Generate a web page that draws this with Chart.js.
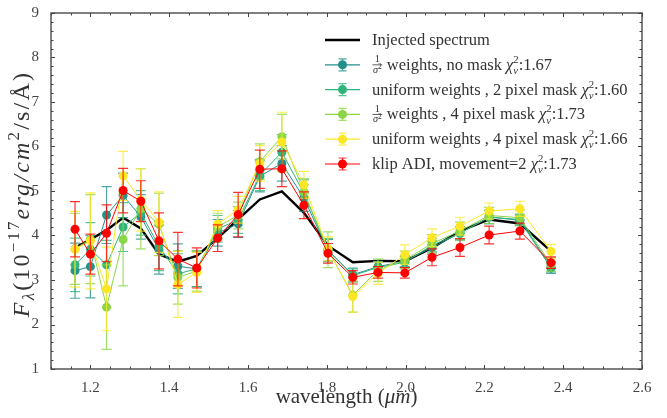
<!DOCTYPE html>
<html>
<head>
<meta charset="utf-8">
<script src="https://cdn.jsdelivr.net/npm/chart.js@4.4.0/dist/chart.umd.min.js"></script>
<style>
  html, body { margin: 0; padding: 0; background: #fff; }
  #wrap { width: 667px; height: 418px; }
</style>
</head>
<body>
<div id="wrap"><canvas id="spectrum" width="667" height="418"></canvas></div>
<script>
// wavelength grid (microns)
const wavelengths = [1.161, 1.200, 1.241, 1.283, 1.328, 1.374, 1.422, 1.470, 1.523, 1.575, 1.630,
                     1.686, 1.742, 1.803, 1.866, 1.930, 1.998, 2.067, 2.138, 2.212, 2.290, 2.369];

// injected model spectrum
const injected = [3.73, 3.91, 4.12, 4.40, 4.16, 3.58, 3.41, 3.54, 3.94, 4.36, 4.81,
                  4.99, 4.51, 3.77, 3.40, 3.43, 3.42, 3.72, 4.10, 4.36, 4.27, 3.65];

// 1/sigma^2 weights, no mask
const fluxSigNoMask = [3.21, 3.30, 4.46, 4.90, 4.42, 3.68, 3.31, 3.25, 4.06, 4.26, 5.33,
                       5.62, 4.84, 3.66, 3.12, 3.30, 3.42, 3.73, 4.05, 4.42, 4.34, 3.27];
const errSigNoMask  = [0.62, 0.70, 0.64, 0.50, 0.50, 0.55, 0.50, 0.40, 0.30, 0.30, 0.35,
                       0.40, 0.30, 0.25, 0.15, 0.12, 0.12, 0.15, 0.15, 0.15, 0.12, 0.12];

// uniform weights, 2 pixel mask
const fluxUni2 = [3.34, 3.69, 3.34, 4.19, 4.51, 3.76, 3.14, 3.25, 4.15, 4.35, 5.36,
                  5.87, 4.95, 3.68, 3.10, 3.28, 3.40, 3.78, 4.05, 4.41, 4.36, 3.30];
const errUni2  = [0.60, 0.60, 0.55, 0.55, 0.50, 0.55, 0.45, 0.40, 0.30, 0.30, 0.35,
                  0.40, 0.30, 0.25, 0.15, 0.12, 0.12, 0.15, 0.15, 0.15, 0.12, 0.12];

// 1/sigma^2 weights, 4 pixel mask
const fluxSig4 = [3.70, 3.92, 2.39, 3.91, 4.60, 4.25, 3.06, 3.20, 4.20, 4.45, 5.66,
                  6.22, 4.98, 3.68, 2.66, 3.22, 3.45, 3.82, 4.10, 4.45, 4.40, 3.35];
const errSig4  = [0.80, 1.00, 0.95, 1.04, 0.90, 0.70, 0.60, 0.45, 0.30, 0.30, 0.40,
                  0.50, 0.30, 0.40, 0.38, 0.25, 0.20, 0.20, 0.20, 0.18, 0.17, 0.15];

// uniform weights, 4 pixel mask
const fluxUni4 = [3.69, 3.88, 2.80, 5.34, 4.80, 4.30, 2.90, 3.17, 4.26, 4.58, 5.62,
                  6.10, 5.14, 3.70, 2.63, 3.15, 3.57, 3.95, 4.21, 4.55, 4.60, 3.64];
const errUni4  = [0.85, 1.08, 0.94, 0.55, 0.70, 0.68, 0.74, 0.45, 0.30, 0.30, 0.40,
                  0.67, 0.30, 0.27, 0.35, 0.25, 0.22, 0.20, 0.20, 0.18, 0.17, 0.16];

// klip ADI, movement=2
const fluxKlip = [4.14, 3.58, 4.05, 5.01, 4.77, 3.88, 3.47, 3.27, 3.94, 4.47, 5.49,
                  5.50, 4.68, 3.60, 3.06, 3.17, 3.16, 3.51, 3.73, 4.01, 4.10, 3.39];
const errKlip  = [0.62, 0.45, 0.64, 0.50, 0.46, 0.63, 0.60, 0.45, 0.30, 0.50, 0.43,
                  0.40, 0.30, 0.22, 0.15, 0.13, 0.12, 0.19, 0.20, 0.20, 0.18, 0.13];

const chiValues = ['1.67', '1.60', '1.73', '1.66', '1.73'];

const xTicks = [1.2, 1.4, 1.6, 1.8, 2.0, 2.2, 2.4, 2.6];
const yTicks = [1, 2, 3, 4, 5, 6, 7, 8, 9];

const SERIF = '"Liberation Serif", "DejaVu Serif", serif';
const fontOf = (size, italic) => (italic ? 'italic ' : '') + size + 'px ' + SERIF;

// --- small rich-text renderer for the math bits (fractions, sub/superscripts) ---
function measureParts(ctx, parts, size) {
  let w = 0;
  for (const p of parts) {
    if (p.stack) {
      w += Math.max(...p.stack.map(q => measureParts(ctx, q, size)));
    } else if (p.frac) {
      w += Math.max(measureParts(ctx, p.frac[0], size), measureParts(ctx, p.frac[1], size)) + 2;
    } else {
      ctx.font = fontOf(size * (p.k || 1), p.it);
      w += ctx.measureText(p.s).width;
    }
  }
  return w;
}

function drawParts(ctx, parts, x, y, size) {
  let cx = x;
  for (const p of parts) {
    if (p.stack) {
      const ws = p.stack.map(q => measureParts(ctx, q, size));
      p.stack.forEach(q => drawParts(ctx, q, cx, y, size));
      cx += Math.max(...ws);
    } else if (p.frac) {
      const wn = measureParts(ctx, p.frac[0], size);
      const wd = measureParts(ctx, p.frac[1], size);
      const w = Math.max(wn, wd) + 2;
      drawParts(ctx, p.frac[0], cx + (w - wn) / 2, y, size);
      drawParts(ctx, p.frac[1], cx + (w - wd) / 2, y, size);
      ctx.save();
      ctx.strokeStyle = ctx.fillStyle;
      ctx.lineWidth = 0.8;
      ctx.beginPath();
      ctx.moveTo(cx + 0.5, y - size * 0.3);
      ctx.lineTo(cx + w - 0.5, y - size * 0.3);
      ctx.stroke();
      ctx.restore();
      cx += w;
    } else {
      ctx.font = fontOf(size * (p.k || 1), p.it);
      ctx.fillText(p.s, cx, y + (p.dy || 0) * size);
      cx += ctx.measureText(p.s).width;
    }
  }
  return cx - x;
}

const chi = [{ s: 'χ', it: true },
             { stack: [[{ s: '2', k: 0.65, dy: -0.42 }], [{ s: 'ν', it: true, k: 0.65, dy: 0.25 }]] }];
const invSigma = { frac: [[{ s: '1', k: 0.62, dy: -0.45 }],
                          [{ s: 'σ', it: true, k: 0.62, dy: 0.18 }, { s: '2', k: 0.45, dy: -0.02 }]] };

const legendItems = [
  { color: '#000000', err: false, parts: [{ s: 'Injected spectrum' }] },
  { color: '#24908c', err: true, parts: [invSigma, { s: ' weights, no mask ' }, ...chi, { s: ':' + chiValues[0] }] },
  { color: '#2fb47c', err: true, parts: [{ s: 'uniform weights , 2 pixel mask ' }, ...chi, { s: ':' + chiValues[1] }] },
  { color: '#8bd646', err: true, parts: [invSigma, { s: ' weights , 4 pixel mask ' }, ...chi, { s: ':' + chiValues[2] }] },
  { color: '#fde725', err: true, parts: [{ s: 'uniform weights , 4 pixel mask ' }, ...chi, { s: ':' + chiValues[3] }] },
  { color: '#ff0000', err: true, parts: [{ s: 'klip ADI, movement=2 ' }, ...chi, { s: ':' + chiValues[4] }] }
];

function withAlpha(hex, a) {
  const n = parseInt(hex.slice(1), 16);
  return 'rgba(' + (n >> 16) + ',' + ((n >> 8) & 255) + ',' + (n & 255) + ',' + a + ')';
}

function series(label, color, ys, errs, order) {
  return {
    label: label,
    data: ys.map((y, i) => ({ x: wavelengths[i], y: y })),
    errors: errs,
    borderColor: color,
    backgroundColor: color,
    borderWidth: 1,
    pointRadius: 4.5,
    pointBorderWidth: 0,
    pointBackgroundColor: color,
    tension: 0,
    order: order
  };
}

const datasets = [
  {
    label: 'Injected spectrum',
    data: injected.map((y, i) => ({ x: wavelengths[i], y: y })),
    borderColor: '#000000',
    borderWidth: 2.4,
    pointRadius: 0,
    tension: 0,
    order: 6
  },
  series('1/σ² weights, no mask', '#24908c', fluxSigNoMask, errSigNoMask, 5),
  series('uniform weights , 2 pixel mask', '#2fb47c', fluxUni2, errUni2, 4),
  series('1/σ² weights , 4 pixel mask', '#8bd646', fluxSig4, errSig4, 3),
  series('uniform weights , 4 pixel mask', '#fde725', fluxUni4, errUni4, 2),
  series('klip ADI, movement=2', '#ff0000', fluxKlip, errKlip, 1)
];

// error bars go under each series' own line and markers
const errorBars = {
  id: 'errorBars',
  beforeDatasetDraw(chart, args) {
    const ds = chart.data.datasets[args.index];
    if (!ds.errors) return;
    const { ctx, scales: { x, y } } = chart;
    ctx.save();
    ctx.strokeStyle = withAlpha(ds.borderColor, 0.8);
    ctx.lineWidth = 1.2;
    ds.data.forEach((p, i) => {
      const px = x.getPixelForValue(p.x);
      const top = y.getPixelForValue(p.y + ds.errors[i]);
      const bot = y.getPixelForValue(p.y - ds.errors[i]);
      ctx.beginPath();
      ctx.moveTo(px, top); ctx.lineTo(px, bot);
      ctx.moveTo(px - 5, top); ctx.lineTo(px + 5, top);
      ctx.moveTo(px - 5, bot); ctx.lineTo(px + 5, bot);
      ctx.stroke();
    });
    ctx.restore();
  }
};

// frame, inward ticks, axis titles and legend
const decorations = {
  id: 'decorations',
  afterDraw(chart) {
    const { ctx, chartArea: a, scales: { x, y } } = chart;
    ctx.save();
    ctx.strokeStyle = '#555';
    ctx.lineWidth = 1.5;
    ctx.strokeRect(a.left, a.top, a.right - a.left, a.bottom - a.top);

    ctx.lineWidth = 1;
    ctx.strokeStyle = '#444';
    ctx.beginPath();
    for (let v = 1.1; v <= 2.6001; v += 0.05) {
      const px = Math.round(x.getPixelForValue(v)) + 0.5;
      const major = xTicks.some(t => Math.abs(t - v) < 1e-6);
      const len = major ? 4 : 2.5;
      ctx.moveTo(px, a.bottom); ctx.lineTo(px, a.bottom - len);
      ctx.moveTo(px, a.top); ctx.lineTo(px, a.top + len);
    }
    for (let v = 1; v <= 9.0001; v += 0.2) {
      const py = Math.round(y.getPixelForValue(v)) + 0.5;
      const major = yTicks.some(t => Math.abs(t - v) < 1e-6);
      const len = major ? 4 : 2.5;
      ctx.moveTo(a.left, py); ctx.lineTo(a.left + len, py);
      ctx.moveTo(a.right, py); ctx.lineTo(a.right - len, py);
    }
    ctx.stroke();

    // x title
    ctx.fillStyle = '#333';
    ctx.textBaseline = 'alphabetic';
    const xTitle = [{ s: 'wavelength (' }, { s: 'μm', it: true }, { s: ')' }];
    const xs = 21;
    const xw = measureParts(ctx, xTitle, xs);
    drawParts(ctx, xTitle, (a.left + a.right) / 2 - xw / 2, 403, xs);

    // y title, spaced out like math-mode text
    const yTitle = [{ s: 'F', it: true }, { s: 'λ', it: true, k: 0.7, dy: 0.22 }, { s: '(10' },
                    { s: '−17', k: 0.7, dy: -0.4 }, { s: 'erg/cm', it: true }, { s: '2', k: 0.7, dy: -0.4 },
                    { s: '/s/Å)' }];
    const ysz = 24;
    ctx.save();
    ctx.letterSpacing = '2.2px';
    const yw = measureParts(ctx, yTitle, ysz);
    ctx.translate(29, 194);
    ctx.rotate(-Math.PI / 2);
    drawParts(ctx, yTitle, -yw / 2, 0, ysz);
    ctx.restore();

    // legend
    const rowY = [40, 64.8, 89.6, 114.4, 139.2, 164];
    legendItems.forEach((item, i) => {
      const ry = rowY[i];
      ctx.strokeStyle = item.color;
      ctx.lineWidth = item.err ? 1.2 : 2.4;
      ctx.beginPath();
      ctx.moveTo(325, ry); ctx.lineTo(360, ry);
      ctx.stroke();
      if (item.err) {
        ctx.strokeStyle = withAlpha(item.color, 0.8);
        ctx.beginPath();
        ctx.moveTo(342.5, ry - 6); ctx.lineTo(342.5, ry + 6);
        ctx.moveTo(338.5, ry - 6); ctx.lineTo(346.5, ry - 6);
        ctx.moveTo(338.5, ry + 6); ctx.lineTo(346.5, ry + 6);
        ctx.stroke();
        ctx.fillStyle = item.color;
        ctx.beginPath();
        ctx.arc(342.5, ry, 4.5, 0, Math.PI * 2);
        ctx.fill();
      }
      ctx.fillStyle = '#333';
      drawParts(ctx, item.parts, 372, ry + 5, 16.5);
    });
    ctx.restore();
  }
};

const tickFont = { family: SERIF, size: 15 };

new Chart(document.getElementById('spectrum').getContext('2d'), {
  type: 'line',
  data: { datasets: datasets },
  options: {
    responsive: false,
    animation: false,
    layout: { padding: { top: 10, right: 25, left: 0, bottom: 0 } },
    plugins: { legend: { display: false }, tooltip: { enabled: false } },
    scales: {
      x: {
        type: 'linear', min: 1.1, max: 2.6,
        afterBuildTicks: s => { s.ticks = xTicks.map(v => ({ value: v })); },
        afterFit: s => { s.height = 49; },
        grid: { display: false }, border: { display: false },
        ticks: { font: tickFont, color: '#444', padding: 2, maxRotation: 0, autoSkip: false,
                 callback: v => Number(v).toFixed(1) }
      },
      y: {
        type: 'linear', min: 1, max: 9,
        afterBuildTicks: s => { s.ticks = yTicks.map(v => ({ value: v })); },
        afterFit: s => { s.width = 51; },
        grid: { display: false }, border: { display: false },
        ticks: { font: tickFont, color: '#444', padding: 4, callback: v => String(v) }
      }
    }
  },
  plugins: [errorBars, decorations]
});
</script>
</body>
</html>
